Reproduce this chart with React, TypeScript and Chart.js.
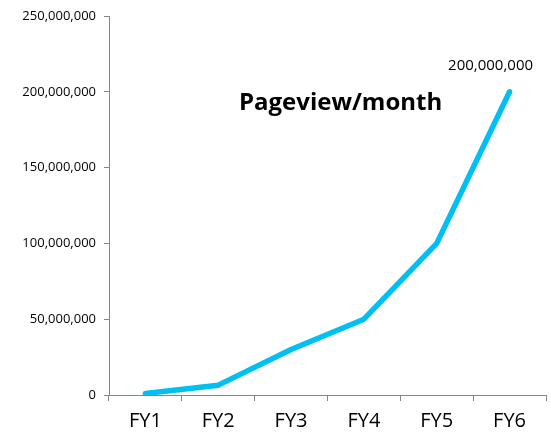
import React, { useEffect, useRef } from "react";
import { Chart, registerables } from "chart.js";

Chart.register(...registerables);

const categories = ["FY1", "FY2", "FY3", "FY4", "FY5", "FY6"];
const pageviews = [1000000, 6500000, 30000000, 50000000, 100000000, 200000000];
const titleText = "Pageview/month";
const lastLabel = "200,000,000";

const FONT = "'Open Sans', 'Noto Sans', sans-serif";

export default function App() {
  const ref = useRef<HTMLCanvasElement | null>(null);
  useEffect(() => {
    if (!ref.current) return;
    const overlay = {
      id: "overlay",
      afterDatasetsDraw(chart: any) {
        const ctx = chart.ctx;
        const area = chart.chartArea;
        ctx.save();
        ctx.fillStyle = "#000";
        ctx.font = `bold 24px ${FONT}`;
        ctx.textAlign = "center";
        ctx.textBaseline = "middle";
        ctx.fillText(titleText, area.left + (area.right - area.left) * 0.53, area.top + 87);
        const meta = chart.getDatasetMeta(0);
        const pt = meta.data[meta.data.length - 1];
        ctx.font = `15px ${FONT}`;
        ctx.fillText(lastLabel, pt.x - 19, pt.y - 26);
        ctx.restore();
      },
    };
    const chart = new Chart(ref.current, {
      type: "line",
      data: {
        labels: categories,
        datasets: [
          {
            data: pageviews,
            borderColor: "#00C0F3",
            borderWidth: 5.5,
            pointRadius: 0,
            tension: 0,
            borderCapStyle: "round",
            borderJoinStyle: "round",
          },
        ],
      },
      options: {
        responsive: false,
        animation: false,
        layout: { padding: { top: 16, right: 5, left: 0, bottom: 0 } },
        plugins: { legend: { display: false }, tooltip: { enabled: false } },
        scales: {
          x: {
            offset: true,
            grid: { offset: true, drawOnChartArea: false, tickLength: 6, color: "#868686", lineWidth: 1 },
            border: { color: "#868686", width: 1 },
            ticks: { color: "#000", font: { family: FONT, size: 20 }, padding: 8 },
            afterFit(scale: any) {
              scale.height = 46;
            },
          },
          y: {
            min: 0,
            max: 250000000,
            ticks: {
              stepSize: 50000000,
              color: "#000",
              font: { family: FONT, size: 13 },
              padding: 8,
              callback: (v: any) => Number(v).toLocaleString("en-US"),
            },
            grid: { drawOnChartArea: false, tickLength: 5, color: "#868686", lineWidth: 1 },
            border: { color: "#868686", width: 1 },
            afterFit(scale: any) {
              scale.width = 109;
            },
          },
        },
      },
      plugins: [overlay],
    } as any);
    return () => chart.destroy();
  }, []);
  return (
    <div style={{ position: "fixed", left: 0, top: 0, width: 551, height: 441, background: "#fff" }}>
      <canvas ref={ref} width={551} height={441} style={{ width: 551, height: 441 }} />
    </div>
  );
}
